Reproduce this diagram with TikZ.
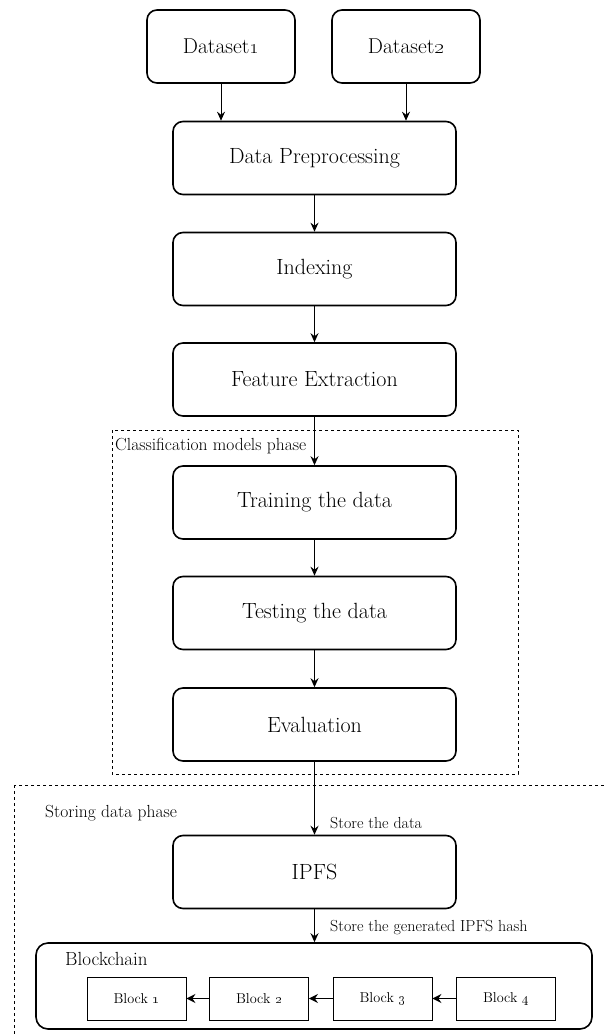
\documentclass[tikz,border=0pt]{standalone}
\usetikzlibrary{arrows.meta}
\begin{document}
\begin{tikzpicture}[x=1pt,y=-1pt,
  box/.style={draw, line width=1.6pt, rounded corners=10pt, minimum width=283pt, minimum height=73pt, inner sep=0pt, font=\fontsize{22}{26}\selectfont},
  dsbox/.style={box, minimum width=148pt, font=\fontsize{21.5}{25}\selectfont},
  blk/.style={draw, line width=0.8pt, minimum width=99pt, minimum height=43pt, inner sep=0pt, font=\fontsize{14.3}{17}\selectfont},
  arr/.style={-{Stealth[length=9pt,width=8pt,inset=3pt]}, line width=1pt},
  barr/.style={-{Stealth[length=9pt,width=9pt,inset=3pt]}, line width=1.6pt},
  phase/.style={draw, line width=0.8pt, dash pattern=on 3pt off 3pt},
  lbl/.style={anchor=west, inner sep=0pt, font=\fontsize{17.5}{20}\selectfont},
  slbl/.style={anchor=west, inner sep=0pt, font=\fontsize{16}{19}\selectfont}
]
\useasboundingbox (0,0) rectangle (604,1036);
\fill[white] (0,0) rectangle (604,1036);

% phase frames
\draw[phase] (112,430) rectangle (518,774);
\draw[phase] (14,785) rectangle (612,1046);
\node[lbl] (cmp) at (115,446) {Classification models phase};
\node[lbl] (sdp) at (45,813) {Storing data phase};

\node[dsbox] (d1) at (221,46.5) {Dataset\oldstylenums{1}};
\node[dsbox] (d2) at (406,46.5) {Dataset\oldstylenums{2}};
\node[box] (pre) at (314.5,158) {Data Preprocessing};
\node[box] (idx) at (314.5,269) {Indexing};
\node[box] (fe) at (314.5,379.5) {Feature Extraction};
\node[box] (tr) at (314.5,502.5) {Training the data};
\node[box] (te) at (314.5,613) {Testing the data};
\node[box] (ev) at (314.5,724.5) {Evaluation};
\node[box] (ipfs) at (314.5,872) {IPFS};

\node[draw, line width=1.6pt, rounded corners=12pt, minimum width=556pt, minimum height=86pt, inner sep=0pt] (chain) at (314,986) {};
\node[lbl, font=\fontsize{19}{22}\selectfont] (chl) at (65,959) {Blockchain};
\node[blk] (b1) at (136.5,998.5) {Block \oldstylenums{1}};
\node[blk] (b2) at (259,998.5) {Block \oldstylenums{2}};
\node[blk] (b3) at (382.5,998.5) {Block \oldstylenums{3}};
\node[blk] (b4) at (506,998.5) {Block \oldstylenums{4}};

\draw[arr] (d1.south) -- (d1.south |- pre.north);
\draw[arr] (d2.south) -- (d2.south |- pre.north);
\draw[arr] (pre) -- (idx);
\draw[arr] (idx) -- (fe);
\draw[arr] (fe) -- (tr);
\draw[arr] (tr) -- (te);
\draw[arr] (te) -- (ev);
\draw[arr] (ev) -- (ipfs);
\draw[arr] (ipfs.south) -- (ipfs.south |- chain.north);
\node[slbl] (sd) at ([xshift=15.5pt, yshift=12pt]ipfs.north) {Store the data};
\node[slbl] (sh) at ([xshift=15.5pt, yshift=-18pt]ipfs.south) {Store the generated IPFS hash};
\draw[barr] (b2) -- (b1);
\draw[barr] (b3) -- (b2);
\draw[barr] (b4) -- (b3);
\end{tikzpicture}
\end{document}
